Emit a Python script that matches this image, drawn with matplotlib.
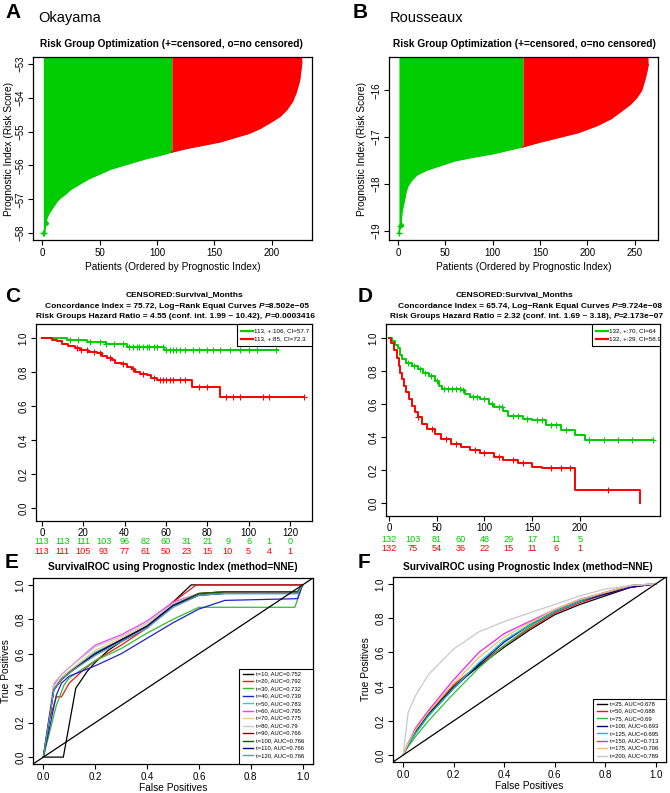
import matplotlib
matplotlib.use('Agg')
import matplotlib.pyplot as plt
import numpy as np
from matplotlib.transforms import blended_transform_factory

plt.rcParams['font.family'] = ['Liberation Sans', 'DejaVu Sans']

W, H = 670, 793
fig = plt.figure(figsize=(6.7, 7.93), dpi=100)
GREEN = '#00CD00'
RED = '#FF0000'

def ax_px(l, t, r, b):
    return fig.add_axes([l / W, 1 - b / H, (r - l) / W, (b - t) / H])

# ---------------- data ----------------
# Panel A: Okayama sorted prognostic index (patient rank, score)
okay_idx = [1, 2, 3, 4, 6, 8, 10, 13, 16, 20, 25, 30, 40, 50, 60, 75, 90, 100, 113,
            125, 140, 155, 170, 180, 190, 200, 207, 213, 218, 221, 224, 226]
okay_val = [-57.98, -57.98, -57.7, -57.55, -57.4, -57.3, -57.2, -57.05, -56.95, -56.85,
            -56.7, -56.6, -56.4, -56.25, -56.1, -55.95, -55.8, -55.72, -55.6, -55.5,
            -55.4, -55.3, -55.15, -55.05, -54.9, -54.7, -54.55, -54.35, -54.1, -53.85,
            -53.5, -52.95]
okay_split = 113
# Panel B: Rousseaux
rous_idx = [1, 2, 3, 4, 6, 8, 10, 15, 20, 30, 45, 60, 80, 100, 132, 150, 170, 190,
            210, 225, 235, 245, 252, 257, 260, 262, 264]
rous_val = [-19.05, -18.9, -18.87, -18.6, -18.4, -18.2, -18.05, -17.9, -17.8, -17.7,
            -17.6, -17.5, -17.42, -17.35, -17.2, -17.1, -17.0, -16.9, -16.75, -16.6,
            -16.45, -16.3, -16.15, -16.0, -15.8, -15.65, -15.45]
rous_split = 132

# Panel C: Okayama KM
c_g_t = [0, 12, 21.6, 31, 41, 59, 114]
c_g_s = [1.0, 0.986, 0.977, 0.965, 0.948, 0.928, 0.928]
c_g_cens = [13.5, 17.6, 23, 28, 31, 35, 39, 42, 44, 46, 47, 49, 51, 52, 54, 55.5, 58.7,
            60, 62, 63.5, 65, 67, 69, 73, 76, 80, 83, 86, 91, 96, 100, 104, 113.5]
c_r_t = [0, 4.7, 7.1, 9.5, 12.7, 16, 18.4, 22.4, 26.5, 28.9, 31.3, 33.7, 35.3, 38.5, 41,
         43.4, 45, 47.4, 50.6, 53, 55.5, 72.4, 86, 127]
c_r_s = [1.0, 0.99, 0.98, 0.967, 0.955, 0.94, 0.93, 0.92, 0.91, 0.895, 0.88, 0.868, 0.855,
         0.845, 0.832, 0.818, 0.8, 0.79, 0.78, 0.765, 0.75, 0.71, 0.655, 0.655]
c_r_cens = [17, 19, 21.6, 25, 28, 33, 39, 44, 49, 54, 57, 58.7, 60, 62, 63.5, 67, 69, 76,
            80, 89, 92.6, 96, 107, 110, 126.8]
c_times = [0, 10, 20, 30, 40, 50, 60, 70, 80, 90, 100, 110, 120]
c_risk_g = [113, 113, 111, 103, 96, 82, 60, 31, 21, 9, 6, 1, 0]
c_risk_r = [113, 111, 105, 93, 77, 61, 50, 23, 15, 10, 5, 4, 1]
c_leg = ['113, +:106, CI=57.7', '113, +:85, CI=72.3']

# Panel D: Rousseaux KM
d_g_t = [0, 3, 6, 9, 12, 14, 18, 24, 30, 36, 42, 48, 52, 56, 75, 80, 85, 95, 105, 110,
         120, 125, 140, 150, 165, 180, 195, 205, 277]
d_g_s = [1.0, 0.98, 0.96, 0.94, 0.9, 0.87, 0.85, 0.83, 0.81, 0.79, 0.77, 0.74, 0.71,
         0.69, 0.685, 0.66, 0.64, 0.63, 0.6, 0.58, 0.56, 0.53, 0.51, 0.5, 0.47, 0.44,
         0.41, 0.38, 0.38]
d_g_cens = [20, 26, 33, 38, 44, 50, 58, 62, 66, 70, 74, 78, 88, 92, 100, 108, 115, 118,
            130, 135, 145, 155, 160, 170, 175, 185, 210, 225, 240, 255, 277]
d_r_t = [0, 2, 5, 8, 10, 12, 14, 16, 18, 21, 24, 27, 30, 35, 40, 48, 55, 65, 75, 85, 95,
         110, 120, 135, 150, 160, 195, 263]
d_r_s = [1.0, 0.97, 0.93, 0.88, 0.83, 0.79, 0.75, 0.71, 0.67, 0.63, 0.59, 0.55, 0.52,
         0.48, 0.45, 0.42, 0.39, 0.36, 0.34, 0.32, 0.3, 0.28, 0.26, 0.24, 0.22, 0.21,
         0.08, 0.0]
d_r_cens = [30, 45, 60, 70, 90, 100, 115, 130, 140, 170, 180, 190, 230]
d_times = [0, 25, 50, 75, 100, 125, 150, 175, 200]
d_risk_g = [132, 103, 81, 60, 48, 29, 17, 11, 5]
d_risk_r = [132, 75, 54, 36, 22, 15, 11, 6, 1]
d_leg = ['132, +:70, CI=64', '132, +:29, CI=58.9']

# Panel E: ROC curves Okayama
e_labels = ['t=10, AUC=0.752', 't=20, AUC=0.792', 't=30, AUC=0.732', 't=40, AUC=0.739',
            't=50, AUC=0.783', 't=60, AUC=0.795', 't=70, AUC=0.775', 't=80, AUC=0.79',
            't=90, AUC=0.766', 't=100, AUC=0.766', 't=110, AUC=0.766', 't=120, AUC=0.766']
e_colors = ['#000000', '#E41A1C', '#2DBE2D', '#1F1FD0', '#40C8C8', '#F040F0', '#F5C878',
            '#C8C8C8', '#8B0000', '#006400', '#00008B', '#5F9EA0']
e_fpr = [
    [0, 0.077, 0.125, 0.17, 0.2, 0.25, 0.3, 0.4, 0.5, 0.57, 1.0],
    [0, 0.02, 0.05, 0.07, 0.1, 0.15, 0.2, 0.3, 0.4, 0.5, 0.59, 1.0],
    [0, 0.03, 0.05, 0.08, 0.1, 0.2, 0.3, 0.4, 0.5, 0.6, 0.97, 1.0],
    [0, 0.05, 0.07, 0.1, 0.2, 0.3, 0.4, 0.5, 0.6, 0.7, 0.98, 1.0],
    [0, 0.04, 0.07, 0.1, 0.2, 0.3, 0.4, 0.5, 0.6, 0.7, 0.98, 1.0],
    [0, 0.04, 0.07, 0.1, 0.2, 0.3, 0.4, 0.5, 0.6, 0.7, 0.98, 1.0],
    [0, 0.04, 0.07, 0.1, 0.2, 0.3, 0.4, 0.5, 0.6, 0.7, 0.98, 1.0],
    [0, 0.04, 0.07, 0.1, 0.2, 0.3, 0.4, 0.5, 0.6, 0.7, 0.98, 1.0],
    [0, 0.04, 0.07, 0.1, 0.2, 0.3, 0.4, 0.5, 0.6, 0.7, 0.98, 1.0],
    [0, 0.04, 0.07, 0.1, 0.2, 0.3, 0.4, 0.5, 0.6, 0.7, 0.98, 1.0],
    [0, 0.04, 0.07, 0.1, 0.2, 0.3, 0.4, 0.5, 0.6, 0.7, 0.98, 1.0],
    [0, 0.04, 0.07, 0.1, 0.2, 0.3, 0.4, 0.5, 0.6, 0.7, 0.98, 1.0],
]
e_tpr = [
    [0, 0, 0.4, 0.5, 0.55, 0.62, 0.67, 0.75, 0.9, 1.0, 1.0],
    [0, 0.2, 0.35, 0.35, 0.43, 0.5, 0.56, 0.65, 0.75, 0.9, 1.0, 1.0],
    [0, 0.18, 0.3, 0.42, 0.46, 0.56, 0.63, 0.72, 0.8, 0.87, 0.87, 1.0],
    [0, 0.36, 0.43, 0.47, 0.53, 0.6, 0.69, 0.78, 0.86, 0.91, 0.92, 1.0],
    [0, 0.4, 0.46, 0.5, 0.61, 0.68, 0.75, 0.87, 0.94, 0.95, 0.95, 1.0],
    [0, 0.42, 0.48, 0.52, 0.65, 0.71, 0.79, 0.9, 0.95, 0.96, 0.96, 1.0],
    [0, 0.4, 0.46, 0.5, 0.62, 0.69, 0.77, 0.89, 0.95, 0.96, 0.96, 1.0],
    [0, 0.43, 0.48, 0.52, 0.64, 0.7, 0.78, 0.89, 0.95, 0.96, 0.96, 1.0],
    [0, 0.39, 0.45, 0.49, 0.6, 0.68, 0.76, 0.88, 0.95, 0.96, 0.96, 1.0],
    [0, 0.39, 0.45, 0.49, 0.6, 0.68, 0.76, 0.88, 0.95, 0.96, 0.96, 1.0],
    [0, 0.39, 0.45, 0.49, 0.6, 0.68, 0.76, 0.88, 0.94, 0.95, 0.95, 1.0],
    [0, 0.39, 0.45, 0.49, 0.59, 0.67, 0.75, 0.87, 0.94, 0.95, 0.95, 1.0],
]

# Panel F: ROC curves Rousseaux
f_labels = ['t=25, AUC=0.678', 't=50, AUC=0.688', 't=75, AUC=0.69', 't=100, AUC=0.693',
            't=125, AUC=0.695', 't=150, AUC=0.713', 't=175, AUC=0.706', 't=200, AUC=0.789']
f_colors = ['#000000', '#E41A1C', '#2DBE2D', '#00008B', '#00C8C8', '#F020F0', '#F5C060',
            '#C8C8C8']
f_fpr = [0, 0.02, 0.05, 0.1, 0.2, 0.3, 0.4, 0.5, 0.6, 0.7, 0.8, 0.9, 1.0]
f_tpr = [
    [0, 0.06, 0.14, 0.24, 0.4, 0.52, 0.63, 0.73, 0.82, 0.88, 0.93, 0.98, 1.0],
    [0, 0.07, 0.15, 0.25, 0.41, 0.53, 0.64, 0.74, 0.83, 0.89, 0.94, 0.98, 1.0],
    [0, 0.05, 0.11, 0.2, 0.36, 0.51, 0.64, 0.75, 0.84, 0.9, 0.95, 0.99, 1.0],
    [0, 0.06, 0.13, 0.23, 0.39, 0.53, 0.66, 0.76, 0.84, 0.9, 0.94, 0.98, 1.0],
    [0, 0.06, 0.13, 0.23, 0.39, 0.54, 0.67, 0.76, 0.84, 0.9, 0.95, 0.99, 1.0],
    [0, 0.07, 0.16, 0.26, 0.44, 0.6, 0.71, 0.78, 0.85, 0.91, 0.95, 0.99, 1.0],
    [0, 0.07, 0.15, 0.25, 0.42, 0.57, 0.69, 0.77, 0.85, 0.91, 0.95, 0.99, 1.0],
    [0, 0.25, 0.35, 0.47, 0.62, 0.72, 0.78, 0.83, 0.88, 0.93, 0.97, 0.99, 1.0],
]

# ---------------- helpers ----------------
FS_TICK = 7.0
FS_LAB = 7.3

def style_r(ax):
    for s in ax.spines.values():
        s.set_linewidth(0.9)
    ax.tick_params(direction='out', length=3.5, width=0.8, labelsize=FS_TICK, pad=2)
    for lab in ax.get_yticklabels():
        lab.set_rotation(90)
        lab.set_va('center')

ov = fig.add_axes([0, 0, 1, 1], zorder=20)
ov.set_xlim(0, W)
ov.set_ylim(H, 0)
ov.axis('off')
renderer = fig.canvas.get_renderer()

def txt(x, y, s, **kw):
    return ov.text(x, y, s, **kw)

def rich_line(xc, y, parts, fs):
    """parts: list of (text, italic?) drawn bold, centred at xc."""
    objs = []
    widths = []
    for s, it in parts:
        t = ov.text(0, y, s, fontsize=fs, fontweight='bold',
                    fontstyle='italic' if it else 'normal', ha='left', va='center')
        widths.append(t.get_window_extent(renderer).width)
        objs.append(t)
    x = xc - sum(widths) / 2
    for t, w in zip(objs, widths):
        t.set_x(x)
        x += w

# panel letters and names
for (x, y, s) in [(5, 12, 'A'), (353, 12, 'B'), (5, 296, 'C'), (358, 296, 'D'),
                  (5, 563, 'E'), (358, 563, 'F')]:
    txt(x, y, s, fontsize=15, fontweight='bold', va='center', ha='left')
txt(38, 18, 'Okayama', fontsize=10.5, va='center', ha='left')
txt(390, 18, 'Rousseaux', fontsize=10.5, va='center', ha='left')

# ---------------- waterfall panels ----------------
def waterfall(rect, idx, val, split, xlim, ylim, xticks, yticks, title_x, ylpad):
    ax = ax_px(*rect)
    idx = np.array(idx, float)
    val = np.array(val, float)
    top = ylim[1]
    g = idx <= split
    r = idx >= split
    ax.fill_between(idx[g], val[g], top, color=GREEN, lw=0)
    ax.plot(idx[g], val[g], color=GREEN, lw=1.2)
    ax.fill_between(idx[r], val[r], top, color=RED, lw=0)
    ax.plot(idx[r], val[r], color=RED, lw=1.2)
    ax.plot(idx[:2], val[:2], '+', color=GREEN, ms=4, mew=1)
    ax.plot(idx[2:3], val[2:3], 'o', color=GREEN, ms=2.5)
    ax.set_xlim(*xlim)
    ax.set_ylim(*ylim)
    ax.set_xticks(xticks)
    ax.set_yticks(yticks)
    ax.set_xlabel('Patients (Ordered by Prognostic Index)', fontsize=FS_LAB, labelpad=3)
    ax.set_ylabel('Prognostic Index (Risk Score)', fontsize=FS_LAB, labelpad=ylpad)
    style_r(ax)
    txt(title_x, 44, 'Risk Group Optimization (+=censored, o=no censored)', fontsize=7.3,
        fontweight='bold', ha='center', va='center')
    return ax

waterfall((33, 57, 312, 240), okay_idx, okay_val, okay_split, (-8, 235), (-58.2, -52.8),
          [0, 50, 100, 150, 200], [-58, -57, -56, -55, -54, -53], 171, 1)
waterfall((389, 57, 658, 240), rous_idx, rous_val, rous_split, (-9.5, 274.5), (-19.19, -15.29),
          [0, 50, 100, 150, 200, 250], [-19, -18, -17, -16], 524, 3)

# ---------------- KM panels ----------------
def step_val(t, s, x):
    t = np.array(t); s = np.array(s)
    i = np.searchsorted(t, x, side='right') - 1
    return s[np.clip(i, 0, len(s) - 1)]

def km(rect, gt, gs, gc, rt, rs, rc, xlim, ylim, xticks, times, rg, rr, leg, titles,
       leg_rect, off_g, off_r):
    ax = ax_px(*rect)
    ax.step(gt, gs, where='post', color=GREEN, lw=1.4)
    ax.plot(gc, step_val(gt, gs, gc), '+', color=GREEN, ms=4.5, mew=0.8)
    ax.step(rt, rs, where='post', color=RED, lw=1.4)
    ax.plot(rc, step_val(rt, rs, rc), '+', color=RED, ms=4.5, mew=0.8)
    ax.set_xlim(*xlim)
    ax.set_ylim(*ylim)
    ax.set_xticks(xticks)
    ax.set_yticks([0.0, 0.2, 0.4, 0.6, 0.8, 1.0])
    ax.set_yticklabels(['0.0', '0.2', '0.4', '0.6', '0.8', '1.0'])
    style_r(ax)
    ax.tick_params(axis='x', pad=1.5)
    tr = blended_transform_factory(ax.transData, ax.transAxes)
    hpx = rect[3] - rect[1]
    for t, a, b in zip(times, rg, rr):
        ax.text(t, -off_g / hpx, str(a), color=GREEN, fontsize=6.6, ha='center',
                va='center', transform=tr)
        ax.text(t, -off_r / hpx, str(b), color=RED, fontsize=6.6, ha='center',
                va='center', transform=tr)
    for (x, y, parts) in titles:
        rich_line(x, y, parts, 6.0)
    l, t_, r_, b_ = leg_rect
    ov.add_patch(plt.Rectangle((l, t_), r_ - l, b_ - t_, fc='white', ec='black', lw=0.8))
    for k, (lab, col) in enumerate(zip(leg, [GREEN, RED])):
        yy = t_ + 6.5 + k * 8.5
        ov.plot([l + 4, l + 16], [yy, yy], color=col, lw=1.6)
        txt(l + 17, yy, lab, fontsize=4.5, va='center', ha='left')
    return ax

km((36, 324, 312, 521), c_g_t, c_g_s, c_g_cens, c_r_t, c_r_s, c_r_cens,
   (-2.9, 130.7), (-0.076, 1.082), [0, 20, 40, 60, 80, 100, 120],
   c_times, c_risk_g, c_risk_r, c_leg,
   [(185, 295, [('CENSORED:Survival_Months', False)]),
    (177, 306, [('Concordance Index = 75.72, Log\u2212Rank Equal Curves ', False),
                ('P', True), ('=8.502e\u221205', False)]),
    (176, 316.5, [('Risk Groups Hazard Ratio = 4.55 (conf. int. 1.99 ~ 10.42), ', False),
                  ('P', True), ('=0.0003416', False)])],
   (237, 324, 312, 346), 20.5, 30)
km((386, 324, 660, 516), d_g_t, d_g_s, d_g_cens, d_r_t, d_r_s, d_r_cens,
   (-3.1, 284), (-0.079, 1.085), [0, 50, 100, 150, 200],
   d_times, d_risk_g, d_risk_r, d_leg,
   [(514, 295, [('CENSORED:Survival_Months', False)]),
    (530, 306, [('Concordance Index = 65.74, Log\u2212Rank Equal Curves ', False),
                ('P', True), ('=9.724e\u221208', False)]),
    (527, 316.5, [('Risk Groups Hazard Ratio = 2.32 (conf. int. 1.69 ~ 3.18), ', False),
                  ('P', True), ('=2.173e\u221207', False)])],
   (592, 324, 660, 346), 23.5, 32.5)

# ---------------- ROC panels ----------------
def roc(rect, fprs, tprs, colors, labels, leg_rect, title_x):
    ax = ax_px(*rect)
    for fx, ty, c in zip(fprs, tprs, colors):
        ax.plot(fx, ty, color=c, lw=0.9)
    ax.plot([-0.04, 1.04], [-0.04, 1.04], color='black', lw=0.9)
    ax.set_xlim(-0.04, 1.04)
    ax.set_ylim(-0.04, 1.04)
    ticks = [0.0, 0.2, 0.4, 0.6, 0.8, 1.0]
    ax.set_xticks(ticks); ax.set_yticks(ticks)
    ax.set_xticklabels(['0.0', '0.2', '0.4', '0.6', '0.8', '1.0'])
    ax.set_yticklabels(['0.0', '0.2', '0.4', '0.6', '0.8', '1.0'])
    ax.set_xlabel('False Positives', fontsize=FS_LAB, labelpad=1)
    ax.set_ylabel('True Positives', fontsize=FS_LAB, labelpad=3)
    style_r(ax)
    txt(title_x, 567, 'SurvivalROC using Prognostic Index (method=NNE)', fontsize=7.3,
        fontweight='bold', ha='center', va='center')
    l, t_, r_, b_ = leg_rect
    ov.add_patch(plt.Rectangle((l, t_), r_ - l, b_ - t_, fc='white', ec='black', lw=0.8))
    for k, (lab, c) in enumerate(zip(labels, colors)):
        yy = t_ + 4.5 + k * 7.45
        ov.plot([l + 4, l + 14], [yy, yy], color=c, lw=1.0)
        txt(l + 17, yy, lab, fontsize=4.2, va='center', ha='left')
    return ax

roc((33, 578, 313, 764), e_fpr, e_tpr, e_colors, e_labels, (239, 669, 313, 764), 173)
roc((393, 577, 666, 762), [f_fpr] * 8, f_tpr, f_colors, f_labels, (593, 699, 666, 762), 528)

fig.savefig('out.png', dpi=100)
